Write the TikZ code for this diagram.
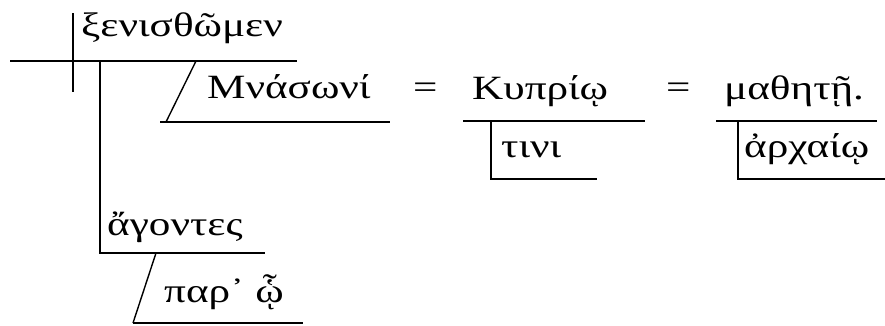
\documentclass[tikz,border=0pt]{standalone}
\usepackage{fontspec}
\setmainfont{Liberation Serif}
\newcommand{\gw}[1]{\scalebox{1.27}[1]{#1}}
\begin{document}
\begin{tikzpicture}[x=1pt,y=-1pt,
  rule/.style={line width=1.4pt},
  word/.style={anchor=base west,inner sep=0pt,font=\fontsize{34}{34}\selectfont}]
\useasboundingbox (0,0) rectangle (885,325);
% coordinates of the diagram
\coordinate (mL) at (10,61);
\coordinate (mR) at (297,61);
\coordinate (dT) at (73,13);
\coordinate (dB) at (73,92);
\coordinate (sT) at (100,61);
\coordinate (sB) at (100,253);
\coordinate (aR) at (265,253);
\coordinate (pT) at (156,253);
\coordinate (pB) at (133,323);
\coordinate (pR) at (303,323);
\coordinate (oT) at (196,61);
\coordinate (oB) at (166,122);
\coordinate (oL) at (160,122);
\coordinate (oR) at (390,122);
\coordinate (kL) at (463,121);
\coordinate (kR) at (645,121);
\coordinate (kV) at (491,121);
\coordinate (kB) at (491,179);
\coordinate (kE) at (597,179);
\coordinate (hL) at (716,121);
\coordinate (hR) at (877,121);
\coordinate (hV) at (738,121);
\coordinate (hB) at (738,179);
\coordinate (hE) at (885,179);
% words
\node[word] (verb) at (81,36) {\gw{ξενισθῶμεν}};
\node[word] (obj) at (207,98) {\gw{Μνάσωνί}};
\node[word] (eq1) at (413,98) {\gw{=}};
\node[word] (kyp) at (472,99) {\gw{Κυπρίῳ}};
\node[word] (tini) at (501,157) {\gw{τινι}};
\node[word] (eq2) at (666,98) {\gw{=}};
\node[word] (math) at (724,99) {\gw{μαθητῇ.}};
\node[word] (arch) at (744,157) {\gw{ἀρχαίῳ}};
\node[word] (agon) at (107,235) {\gw{ἄγοντες}};
\node[word] (par) at (164,302) {\gw{παρ᾽ ᾧ}};
% lines
\draw[rule] (mL) -- (mR);
\draw[rule] (dT) -- (dB);
\draw[rule] (sT) -- (sB) -- (aR);
\draw[rule] (pT) -- (pB);
\draw[rule] (pB) -- (pR);
\draw[rule] (oT) -- (oB);
\draw[rule] (oL) -- (oR);
\draw[rule] (kL) -- (kR);
\draw[rule] (kV) -- (kB) -- (kE);
\draw[rule] (hL) -- (hR);
\draw[rule] (hV) -- (hB) -- (hE);
\end{tikzpicture}
\end{document}
